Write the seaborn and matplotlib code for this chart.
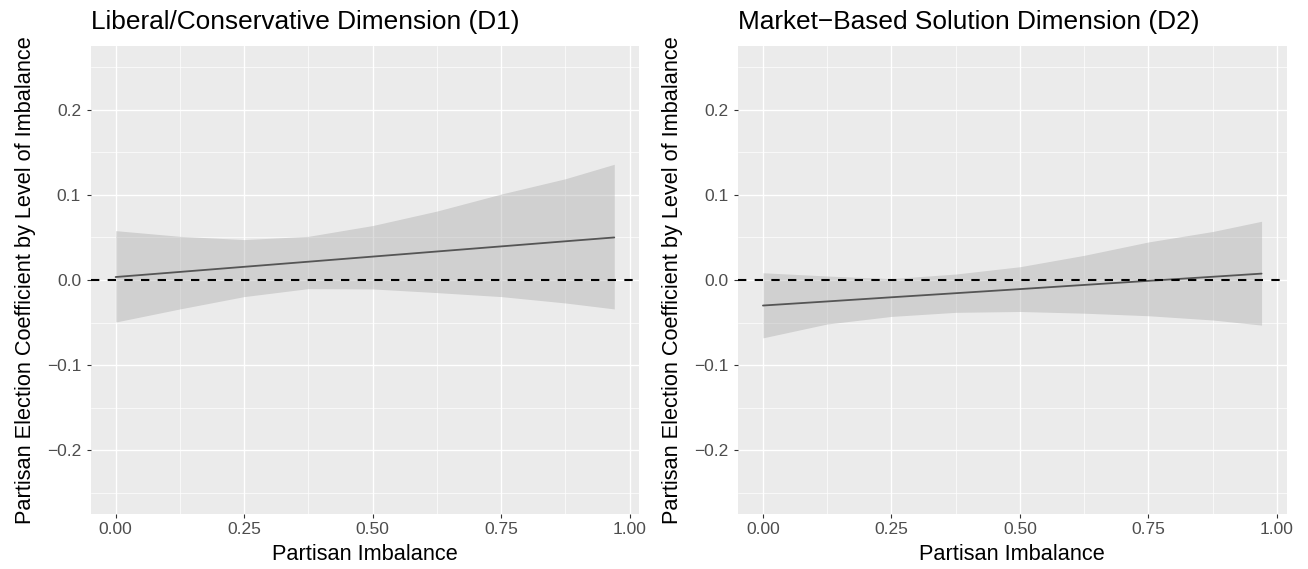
import matplotlib
matplotlib.use("Agg")
import matplotlib.pyplot as plt
import seaborn as sns
import pandas as pd
import numpy as np

# ---- data ----
imbalance = [0.0, 0.125, 0.25, 0.375, 0.5, 0.625, 0.75, 0.875, 0.97]

d1_fit = [0.0035, 0.0095, 0.0155, 0.0215, 0.0275, 0.0335, 0.0395, 0.0455, 0.050]
d1_upper = [0.058, 0.0513, 0.0475, 0.0513, 0.064, 0.081, 0.101, 0.119, 0.136]
d1_lower = [-0.0494, -0.034, -0.0195, -0.0101, -0.0105, -0.0148, -0.0195, -0.027, -0.034]

d2_fit = [-0.030, -0.0252, -0.0203, -0.0155, -0.0107, -0.0058, -0.001, 0.0038, 0.0075]
d2_upper = [0.0085, 0.0047, 0.0016, 0.007, 0.0156, 0.029, 0.0447, 0.057, 0.069]
d2_lower = [-0.068, -0.0517, -0.0428, -0.038, -0.037, -0.039, -0.042, -0.047, -0.053]

titles = ["Liberal/Conservative Dimension (D1)", "Market\u2212Based Solution Dimension (D2)"]
x_ticks = [0.0, 0.25, 0.5, 0.75, 1.0]
x_ticklabels = ["0.00", "0.25", "0.50", "0.75", "1.00"]
y_ticks = [-0.2, -0.1, 0.0, 0.1, 0.2]
y_ticklabels = ["\u22120.2", "\u22120.1", "0.0", "0.1", "0.2"]
x_title = "Partisan Imbalance"
y_title = "Partisan Election Coefficient by Level of Imbalance"

# ---- style ----
sns.set_theme(style="darkgrid")
plt.rcParams["font.family"] = ["Liberation Sans", "DejaVu Sans"]
plt.rcParams["axes.unicode_minus"] = True

W, H = 1308, 569
fig = plt.figure(figsize=(W / 100, H / 100), dpi=100)
fig.patch.set_facecolor("white")

ax_left_px = [90.7, 738.0]
ax_w_px = 548.5
ax_top_px, ax_bot_px = 46.0, 514.0

panels = [
    (d1_fit, d1_upper, d1_lower),
    (d2_fit, d2_upper, d2_lower),
]

for i, (fit, up, lo) in enumerate(panels):
    left = ax_left_px[i] / W
    bottom = (H - ax_bot_px) / H
    ax = fig.add_axes([left, bottom, ax_w_px / W, (ax_bot_px - ax_top_px) / H])
    ax.set_facecolor("#EBEBEB")
    for s in ax.spines.values():
        s.set_visible(False)

    df = pd.DataFrame({"imbalance": imbalance, "fit": fit, "upper": up, "lower": lo})

    ax.fill_between(df["imbalance"], df["lower"], df["upper"],
                    color="#999999", alpha=0.33, linewidth=0, zorder=2)
    sns.lineplot(data=df, x="imbalance", y="fit", ax=ax, color="#555555",
                 linewidth=1.3, zorder=3, legend=False)
    ax.axhline(0, color="black", linewidth=1.5, linestyle=(0, (4, 4)), zorder=4)

    ax.set_xlim(-0.0485, 1.0185)
    ax.set_ylim(-0.275, 0.275)

    ax.set_xticks(x_ticks)
    ax.set_xticklabels(x_ticklabels)
    ax.set_yticks(y_ticks)
    ax.set_yticklabels(y_ticklabels)
    ax.set_xticks([0.125, 0.375, 0.625, 0.875], minor=True)
    ax.set_yticks([-0.25, -0.15, -0.05, 0.05, 0.15, 0.25], minor=True)

    ax.grid(which="major", color="white", linewidth=1.0, zorder=1)
    ax.grid(which="minor", color="white", linewidth=0.5, zorder=1)
    ax.set_axisbelow(True)

    ax.tick_params(axis="both", which="major", bottom=True, left=True,
                   length=2.9, width=0.8,
                   color="#333333", labelcolor="#4D4D4D", labelsize=12.5)
    ax.tick_params(axis="x", which="major", pad=2.7)
    ax.tick_params(axis="y", which="major", pad=4.0)
    ax.tick_params(axis="both", which="minor", length=0)

    ax.set_xlabel(x_title, fontsize=15.7, color="black")
    ax.set_ylabel(y_title, fontsize=15.7, color="black")
    ax.xaxis.set_label_coords(0.5, (H - 543.6 - (H - ax_bot_px)) / (ax_bot_px - ax_top_px))
    ax.yaxis.set_label_coords(-55.0 / ax_w_px, 0.5)

    ax.set_title(titles[i], loc="left", fontsize=18.9, color="black", pad=12)

fig.savefig("out.png", dpi=100, facecolor="white")
